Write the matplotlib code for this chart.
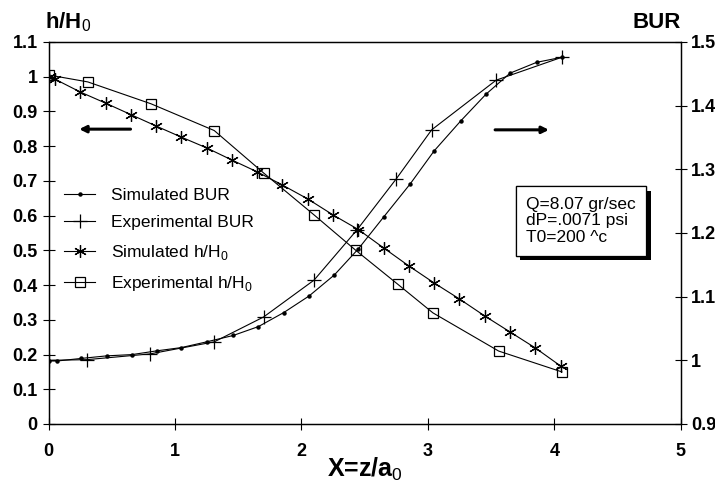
import matplotlib
matplotlib.use("Agg")
import matplotlib.pyplot as plt
import matplotlib.patheffects as pe
import numpy as np

plt.rcParams.update({
    "font.family": ["Liberation Sans", "DejaVu Sans"],
    "font.size": 12,
    "mathtext.fontset": "custom",
    "mathtext.rm": "Liberation Sans",
})

# Simulated h/H0 (asterisks) - left axis
sim_h_x = [0.0, 0.05, 0.25, 0.45, 0.65, 0.85, 1.05, 1.25, 1.45, 1.65, 1.85,
           2.05, 2.25, 2.45, 2.65, 2.85, 3.05, 3.25, 3.45, 3.65, 3.85, 4.05]
sim_h_y = [1.0, 0.993, 0.956, 0.924, 0.891, 0.858, 0.826, 0.795, 0.760, 0.726, 0.688,
           0.648, 0.602, 0.560, 0.507, 0.455, 0.406, 0.360, 0.311, 0.265, 0.219, 0.167]

# Experimental h/H0 (squares) - left axis
exp_h_x = [0.0, 0.31, 0.81, 1.31, 1.70, 2.10, 2.43, 2.76, 3.04, 3.56, 4.06]
exp_h_y = [1.005, 0.985, 0.922, 0.845, 0.723, 0.602, 0.500, 0.403, 0.320, 0.210, 0.150]

# Simulated BUR (dots) - right axis
sim_bur_x = [0.0, 0.07, 0.26, 0.46, 0.66, 0.86, 1.05, 1.25, 1.46, 1.66, 1.86,
             2.06, 2.26, 2.45, 2.65, 2.86, 3.05, 3.26, 3.46, 3.65, 3.86, 4.06]
sim_bur_y = [0.999, 0.999, 1.003, 1.007, 1.009, 1.015, 1.020, 1.029, 1.039, 1.053, 1.075,
             1.101, 1.134, 1.175, 1.225, 1.277, 1.329, 1.376, 1.418, 1.451, 1.468, 1.476]

# Experimental BUR (plus) - right axis
exp_bur_x = [0.0, 0.30, 0.80, 1.31, 1.70, 2.10, 2.44, 2.75, 3.03, 3.54, 4.06]
exp_bur_y = [1.0, 1.001, 1.010, 1.029, 1.068, 1.126, 1.205, 1.285, 1.362, 1.440, 1.476]

asterisk = (6, 2, 0)
lw = 0.8

fig = plt.figure(figsize=(7.15, 4.91), dpi=100)
ax = fig.add_axes([0.068, 0.1365, 0.884, 0.778])
ax2 = ax.twinx()

l1, = ax2.plot(sim_bur_x, sim_bur_y, color="black", lw=lw, marker="o", ms=2.2,
               label="Simulated BUR")
l2, = ax2.plot(exp_bur_x, exp_bur_y, color="black", lw=lw, marker="+", ms=10,
               mew=0.9, label="Experimental BUR")
l3, = ax.plot(sim_h_x, sim_h_y, color="black", lw=lw, marker=asterisk, ms=9,
              mew=0.9, label="Simulated h/H$_0$")
l4, = ax.plot(exp_h_x, exp_h_y, color="black", lw=lw, marker="s", ms=7,
              mfc="none", mew=0.9, label="Experimental h/H$_0$")

ax.set_xlim(0, 5)
ax.set_ylim(0, 1.1)
ax2.set_ylim(0.9, 1.5)
ax.set_xticks(range(6))
ax.set_yticks(np.arange(0, 1.11, 0.1))
ax.set_yticklabels(["0", "0.1", "0.2", "0.3", "0.4", "0.5", "0.6", "0.7", "0.8", "0.9", "1", "1.1"])
ax2.set_yticks([0.9, 1.0, 1.1, 1.2, 1.3, 1.4, 1.5])
ax2.set_yticklabels(["0.9", "1", "1.1", "1.2", "1.3", "1.4", "1.5"])

for a in (ax, ax2):
    a.tick_params(direction="inout", length=8, width=0.8, labelsize=13)
    for lab in a.get_xticklabels() + a.get_yticklabels():
        lab.set_fontweight("bold")
    for s in a.spines.values():
        s.set_linewidth(0.9)
ax.tick_params(axis="x", pad=10)
ax.tick_params(axis="y", pad=4)

fig.text(0.063, 0.955, "h/H$_0$", fontsize=16, fontweight="bold", ha="left", va="center")
fig.text(0.952, 0.955, "BUR", fontsize=16, fontweight="bold", ha="right", va="center")
fig.text(0.51, 0.045, "X=z/a$_0$", fontsize=18, fontweight="bold", ha="center", va="center")

# direction arrows
ax.annotate("", xy=(0.22, 0.849), xytext=(0.67, 0.849),
            arrowprops=dict(arrowstyle="-|>", color="black", lw=2.2, mutation_scale=10))
ax.annotate("", xy=(3.98, 0.847), xytext=(3.51, 0.847),
            arrowprops=dict(arrowstyle="-|>", color="black", lw=2.2, mutation_scale=10))

leg = ax.legend(handles=[l1, l2, l3, l4], loc="upper left",
                bbox_to_anchor=(0.0, 0.66), frameon=False, fontsize=12.5,
                handlelength=1.8, handletextpad=0.9, labelspacing=0.72,
                borderaxespad=0.5)

txt = ax.text(4.21, 0.585, "Q=8.07 gr/sec\ndP=.0071 psi\nT0=200 ^c", fontsize=12.5,
              ha="center", va="center", multialignment="left", linespacing=1.15,
              bbox=dict(boxstyle="square,pad=0.6", fc="white", ec="black", lw=0.9),
              zorder=5)
txt.get_bbox_patch().set_path_effects([
    pe.withSimplePatchShadow(offset=(3.5, -3.5), shadow_rgbFace="black", alpha=1.0),
    pe.Normal()])

fig.savefig("out.png", dpi=100)
